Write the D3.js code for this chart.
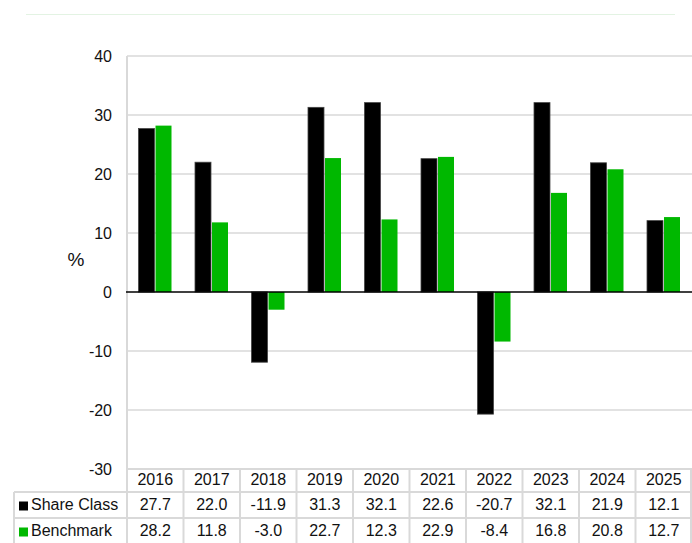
<!DOCTYPE html>
<html>
<head>
<meta charset="utf-8">
<script src="https://cdn.jsdelivr.net/npm/d3@7"></script>
<style>
  html, body { margin: 0; padding: 0; background: #fff; }
  svg { display: block; font-family: "Liberation Sans", Arial, sans-serif; }
</style>
</head>
<body>
<svg id="chart" width="692" height="543"></svg>
<script>
const years = ["2016","2017","2018","2019","2020","2021","2022","2023","2024","2025"];
const seriesNames = ["Share Class", "Benchmark"];
const shareClass = [27.7, 22.0, -11.9, 31.3, 32.1, 22.6, -20.7, 32.1, 21.9, 12.1];
const benchmark = [28.2, 11.8, -3.0, 22.7, 12.3, 22.9, -8.4, 16.8, 20.8, 12.7];
const yTicks = [40, 30, 20, 10, 0, -10, -20, -30];
const colors = ["#000000", "#00b800"];

const series = [shareClass, benchmark];
const svg = d3.select("#chart");
const plotLeft = 127, plotRight = 692, plotTop = 56, plotBottom = 469;
const textColor = "#111";

const x = d3.scaleBand().domain(years).range([plotLeft, plotRight]).paddingInner(0).paddingOuter(0);
const x1 = d3.scaleBand().domain(seriesNames).range([11.5, 44.5]).paddingInner(0.06);
const y = d3.scaleLinear().domain([-30, 40]).range([plotBottom, plotTop]);

// top faint rule
svg.append("line").attr("x1", 26).attr("x2", 675).attr("y1", 14.5).attr("y2", 14.5)
  .attr("stroke", "#e3f3e3").attr("stroke-width", 1);

// gridlines
const gridColor = "#d9d9d9";
svg.append("g").selectAll("line").data(yTicks.filter(d => d !== 0)).join("line")
  .attr("x1", plotLeft).attr("x2", plotRight)
  .attr("y1", d => y(d)).attr("y2", d => y(d))
  .attr("stroke", gridColor).attr("stroke-width", 1.5);

// left axis line through table
svg.append("line").attr("x1", plotLeft).attr("x2", plotLeft)
  .attr("y1", plotTop).attr("y2", 543)
  .attr("stroke", gridColor).attr("stroke-width", 2);

// y tick labels via axis
const yAxis = d3.axisLeft(y).tickValues(yTicks).tickSize(0).tickPadding(0).tickFormat(d => String(d));
const gy = svg.append("g").attr("transform", "translate(112,0)").call(yAxis);
gy.select(".domain").remove();
gy.selectAll("text").attr("font-size", 16).attr("fill", textColor).attr("font-family", "Liberation Sans, Arial, sans-serif").attr("dy", "0.35em");

// % label
svg.append("text").attr("x", 76).attr("y", 261).attr("text-anchor", "middle").attr("dominant-baseline", "middle")
  .attr("font-size", 19).attr("fill", textColor).text("%");

// bars
seriesNames.forEach((name, si) => {
  svg.append("g").selectAll("rect").data(series[si]).join("rect")
    .attr("x", (d, i) => x(years[i]) + x1(name))
    .attr("width", x1.bandwidth())
    .attr("y", d => y(Math.max(0, d)))
    .attr("height", d => Math.abs(y(d) - y(0)))
    .attr("fill", colors[si])
    .attr("stroke", si === 0 ? "#444" : "none")
    .attr("stroke-width", si === 0 ? 0.8 : 0);
});

// zero line
svg.append("line").attr("x1", plotLeft - 1).attr("x2", plotRight)
  .attr("y1", y(0)).attr("y2", y(0))
  .attr("stroke", "#000").attr("stroke-width", 1.5);

// table
const rowTops = [469, 492, 518, 543];
const tableLeft = 14;
const tg = svg.append("g");
tg.append("line").attr("x1", plotLeft).attr("x2", plotRight).attr("y1", rowTops[0]).attr("y2", rowTops[0]).attr("stroke", gridColor).attr("stroke-width", 2);
tg.append("line").attr("x1", tableLeft).attr("x2", plotRight).attr("y1", rowTops[1]).attr("y2", rowTops[1]).attr("stroke", gridColor).attr("stroke-width", 2);
tg.append("line").attr("x1", tableLeft).attr("x2", plotRight).attr("y1", rowTops[2]).attr("y2", rowTops[2]).attr("stroke", gridColor).attr("stroke-width", 2);
tg.append("line").attr("x1", tableLeft).attr("x2", tableLeft).attr("y1", rowTops[1]).attr("y2", 543).attr("stroke", gridColor).attr("stroke-width", 2);
tg.selectAll("line.col").data(years.slice(1)).join("line").attr("class", "col")
  .attr("x1", d => x(d)).attr("x2", d => x(d)).attr("y1", rowTops[0]).attr("y2", 543)
  .attr("stroke", gridColor).attr("stroke-width", 2);
tg.append("line").attr("x1", plotRight - 1).attr("x2", plotRight - 1).attr("y1", rowTops[0]).attr("y2", 543).attr("stroke", gridColor).attr("stroke-width", 2);

// header years
tg.selectAll("text.yr").data(years).join("text").attr("class", "yr")
  .attr("x", d => x(d) + x.bandwidth() / 2).attr("y", 481)
  .attr("text-anchor", "middle").attr("dominant-baseline", "middle")
  .attr("font-size", 16).attr("fill", textColor).text(d => d);

// rows
const rowCenters = [506, 532];
seriesNames.forEach((name, si) => {
  tg.append("rect").attr("x", 19).attr("y", rowCenters[si] - 4.5).attr("width", 9).attr("height", 9).attr("fill", colors[si]);
  tg.append("text").attr("x", 31).attr("y", rowCenters[si]).attr("dominant-baseline", "middle")
    .attr("font-size", 16).attr("fill", textColor).text(name);
  tg.selectAll("text.v" + si).data(series[si]).join("text").attr("class", "v" + si)
    .attr("x", (d, i) => x(years[i]) + x.bandwidth() / 2).attr("y", rowCenters[si])
    .attr("text-anchor", "middle").attr("dominant-baseline", "middle")
    .attr("font-size", 16).attr("fill", textColor).text(d => d.toFixed(1));
});
</script>
</body>
</html>
